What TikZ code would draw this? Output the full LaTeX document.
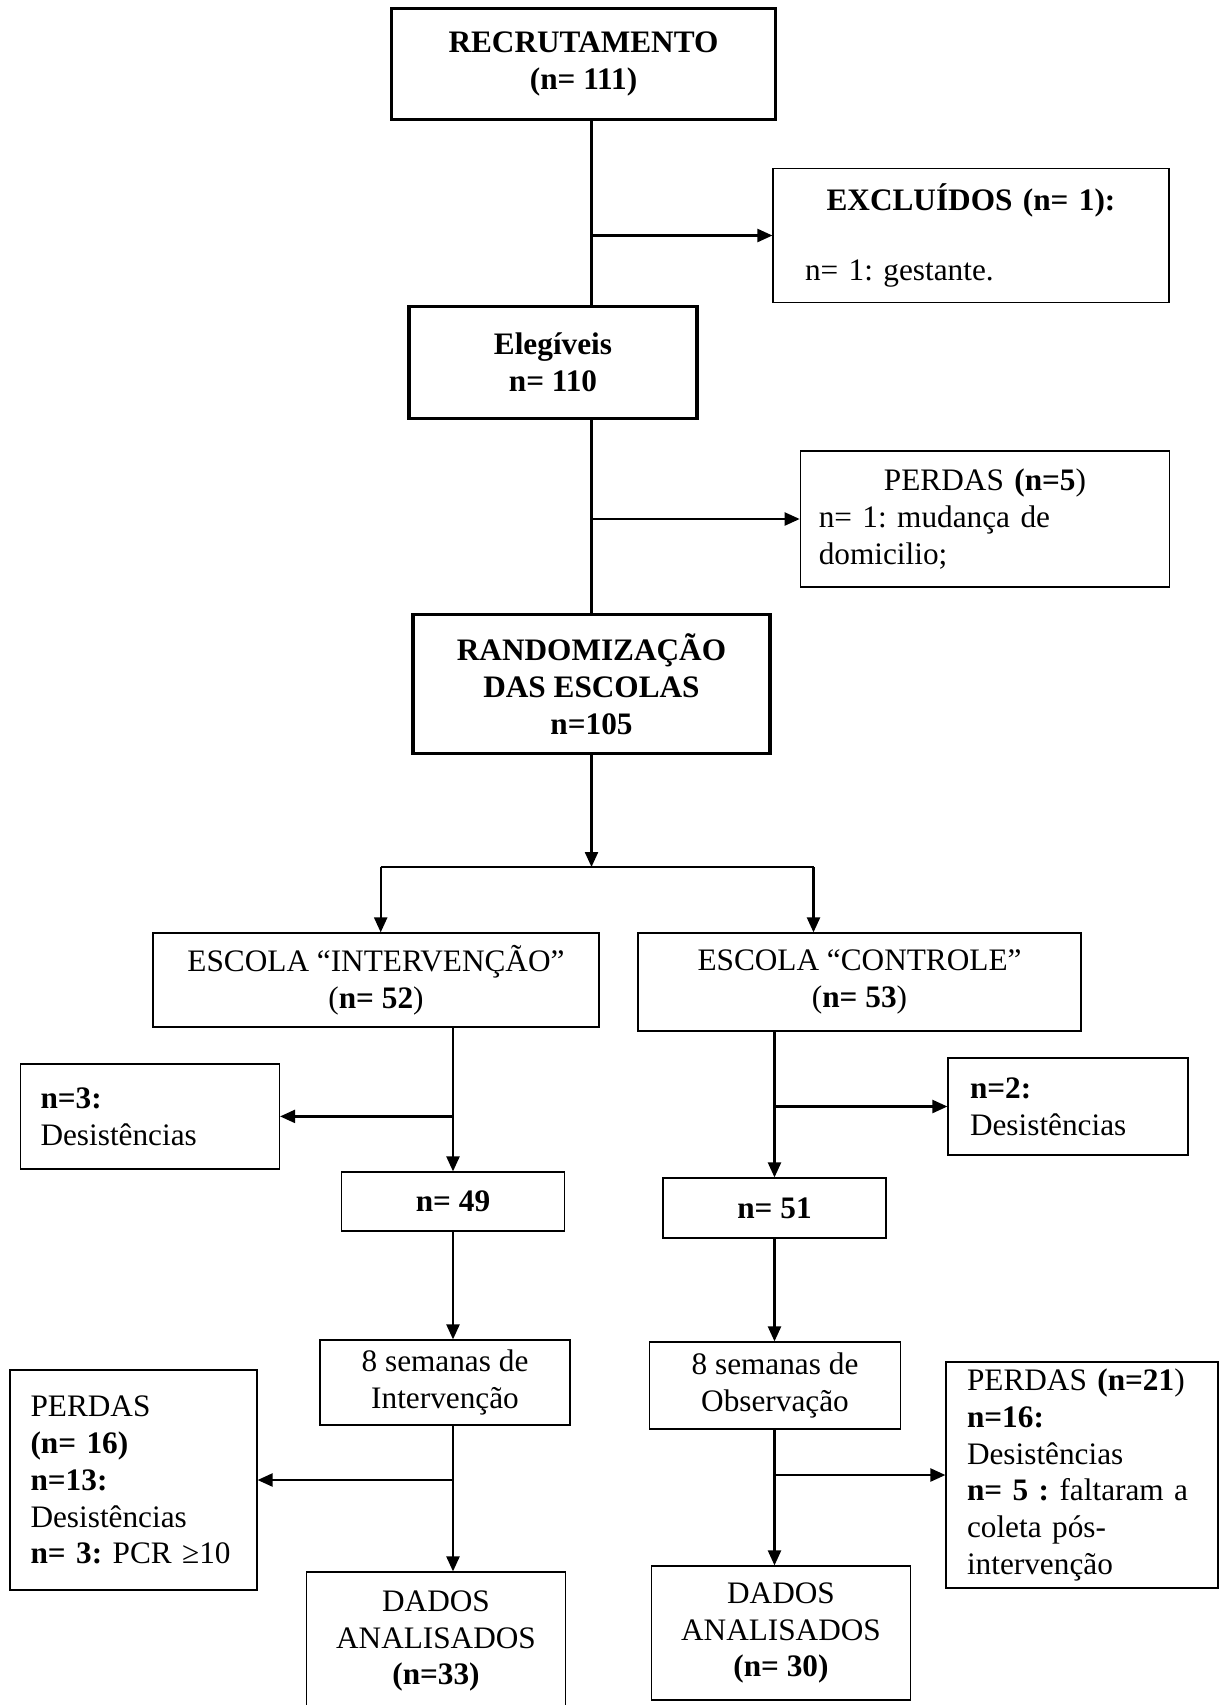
\documentclass[tikz,border=0pt]{standalone}
\usepackage{fontspec}
\setmainfont{Liberation Serif}
\usepackage{tikz}
\usetikzlibrary{arrows.meta}
\frenchspacing

\begin{document}
\begin{tikzpicture}[x=0.02cm, y=-0.02cm,
	every node/.style={font=\fontsize{17.8}{21}\selectfont\frenchspacing, inner sep=0pt},
	bigbox/.style={draw, line width=1.9pt, align=center},
	smallbox/.style={draw, line width=0.7pt, align=center},
	sidebox/.style={draw, line width=0.7pt, align=left},
	arr/.style={line width=1.3pt, -{Triangle[length=0.3cm, width=0.26cm]}},
	link/.style={line width=1.3pt}]
\useasboundingbox (0,0) rectangle (1229,1705);
\clip (0,0) rectangle (1229,1705);

\node [bigbox, minimum width=7.68cm, minimum height=2.22cm] (recr) at (583.5,64)
	{\textbf{RECRUTAMENTO}\\\textbf{(n= 111)}};
\node [sidebox, minimum width=7.92cm, minimum height=2.68cm, text width=6.64cm] (excl) at (971,235.5)
	{\makebox[\linewidth]{\textbf{EXCLUÍDOS (n= 1):}}\\[0.66cm]n= 1: gestante.};
\node [bigbox, minimum width=5.76cm, minimum height=2.24cm] (elig) at (553,362.7)
	{\textbf{Elegíveis}\\\textbf{n= 110}};
\node [sidebox, minimum width=7.39cm, minimum height=2.72cm, text width=6.65cm] (perd5) at (985,519)
	{\makebox[\linewidth]{PERDAS \textbf{(n=5})}\\n= 1: mudança de\\domicilio;};
\node [bigbox, minimum width=7.14cm, minimum height=2.78cm] (rand) at (591.5,684)
	{\textbf{RANDOMIZAÇÃO}\\\textbf{DAS ESCOLAS}\\\textbf{n=105}};

\node [smallbox, minimum width=8.92cm, minimum height=1.88cm] (escI) at (376,980)
	{ESCOLA “INTERVENÇÃO”\\(\textbf{n= 52})};
\node [smallbox, minimum width=8.86cm, minimum height=1.96cm] (escC) at (859.5,982)
	{ESCOLA “CONTROLE”\\(\textbf{n= 53})};

\node [sidebox, minimum width=5.18cm, minimum height=2.1cm, text width=4.38cm] (desI) at (150,1116.4)
	{\textbf{n=3:}\\Desistências};
\node [sidebox, minimum width=4.8cm, minimum height=1.94cm, text width=3.92cm] (desC) at (1068,1106.5)
	{\textbf{n=2:}\\Desistências};

\node [smallbox, minimum width=4.46cm, minimum height=1.18cm] (n49) at (453,1201.5) {\textbf{n= 49}};
\node [smallbox, minimum width=4.46cm, minimum height=1.2cm] (n51) at (774.5,1208) {\textbf{n= 51}};

\node [smallbox, minimum width=5cm, minimum height=1.7cm] (semI) at (445,1382.5)
	{8 semanas de\\Intervenção};
\node [smallbox, minimum width=5.03cm, minimum height=1.74cm] (semO) at (775,1385.5)
	{8 semanas de\\Observação};

\node [sidebox, minimum width=4.94cm, minimum height=4.4cm, text width=4.12cm] (perdI) at (133.5,1480)
	{PERDAS\\\textbf{(n= 16)}\\\textbf{n=13:}\\Desistências\\\textbf{n= 3:} PCR ≥10};
\node [sidebox, minimum width=5.44cm, minimum height=4.52cm, text width=4.6cm] (perdC) at (1082,1475)
	{PERDAS \textbf{(n=21})\\\textbf{n=16:}\\Desistências\\\textbf{n= 5 :} faltaram a\\coleta pós-\\intervenção};

\node [smallbox, minimum width=5.17cm, minimum height=2.76cm] (dadI) at (436,1641)
	{DADOS\\ANALISADOS\\\textbf{(n=33)}};
\node [smallbox, minimum width=5.17cm, minimum height=2.68cm] (dadC) at (781,1633)
	{DADOS\\ANALISADOS\\\textbf{(n= 30)}};

\coordinate (splitL) at (380.7,867);
\coordinate (splitR) at (813.5,867);

\draw [link] (recr.south -| rand) -- (elig.north -| rand);
\draw [arr] (excl.west -| rand) -- (excl.west);
\draw [link] (elig.south -| rand) -- (rand.north);
\draw [arr] (perd5.west -| rand) -- (perd5.west);
\draw [arr] (rand.south) -- (rand.south |- splitL);
\draw [link] (splitL) -- (splitR);
\draw [arr] (splitL) -- (splitL |- escI.north);
\draw [arr] (splitR) -- (splitR |- escC.north);

\draw [arr] (escI.south -| n49) -- (n49.north);
\draw [arr] (desI.east -| n49) -- (desI.east);
\draw [arr] (escC.south -| n51) -- (n51.north);
\draw [arr] (desC.west -| n51) -- (desC.west);

\draw [arr] (n49.south) -- (n49 |- semI.north);
\draw [arr] (n51.south) -- (n51 |- semO.north);
\draw [arr] (semI.south -| n49) -- (n49 |- dadI.north);
\draw [arr] (perdI.east -| n49) -- (perdI.east);
\draw [arr] (semO.south -| n51) -- (n51 |- dadC.north);
\draw [arr] (perdC.west -| n51) -- (perdC.west);
\end{tikzpicture}
\end{document}
